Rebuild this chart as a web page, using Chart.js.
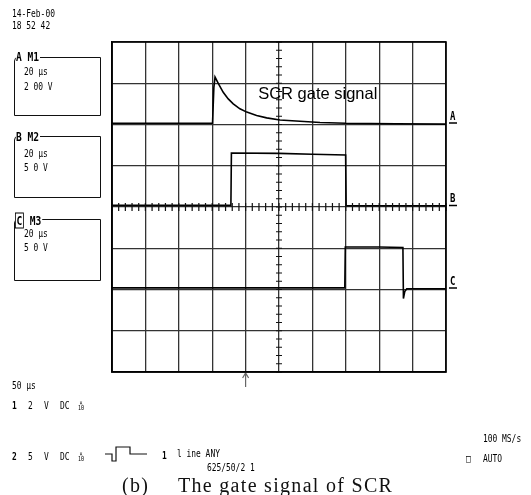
<!DOCTYPE html>
<html>
<head>
<meta charset="utf-8">
<script src="https://cdn.jsdelivr.net/npm/chart.js@4.4.1/dist/chart.umd.min.js"></script>
<style>
  html, body { margin: 0; padding: 0; background: #fff; }
  #wrap { position: relative; width: 531px; height: 495px; overflow: hidden; background: #fff; }
  #c { position: absolute; left: 0; top: 0; }
  .t { position: absolute; white-space: nowrap; font-family: "DejaVu Sans Mono", monospace; font-size: 11px; line-height: 13px; color: #000;
       transform: translateY(-50%) scaleX(0.72); transform-origin: left center; }
  .b { font-weight: bold; }
  .box { position: absolute; border: 1.5px solid #111; border-radius: 4px 0 0 0; }
  .lab { position: absolute; background: #fff; font-family: "DejaVu Sans Mono", monospace; font-weight: bold; font-size: 12px; line-height: 13px;
         transform: translateY(-50%) scaleX(0.8); transform-origin: left center; padding-right: 1px; color: #000; }
  .inv { border: 1.2px solid #000; padding: 0 1px; }
  .cap { position: absolute; font-family: "Liberation Serif", "Times New Roman", serif; font-size: 20px; line-height: 22px; letter-spacing: 1.3px; color: #111; transform: translateY(-50%); white-space: nowrap; }
  .stk { display: inline-block; font-size: 7px; line-height: 5px; vertical-align: middle; text-align: center; }
</style>
</head>
<body>
<div id="wrap">
  <canvas id="c" width="531" height="495"></canvas>
</div>
<script>
// ---- Data (time in µs, level in screen divisions) ----
const timeMin = 0, timeMax = 200, timeStep = 20;     // 20 µs/div, 10 div
const divMin = -4, divMax = 4;                       // 8 vertical divisions

// Channel A (M1, 2.00 V/div): SCR gate signal
const aTime  = [0, 60.2, 61.0, 61.7, 63.7, 66.6, 69.6, 72.6, 76.6, 80.7, 86.6, 92.6, 100.6, 112.6, 124.6, 140, 170, 200];
const aLevel = [2.03, 2.03, 2.9, 3.15, 2.99, 2.78, 2.62, 2.50, 2.38, 2.30, 2.22, 2.16, 2.11, 2.08, 2.05, 2.03, 2.02, 2.01];

// Channel B (M2, 5.0 V/div)
const bTime  = [0, 71.2, 71.5, 100, 120, 139.9, 140.2, 200];
const bLevel = [0.04, 0.04, 1.31, 1.30, 1.28, 1.26, 0.03, 0.03];

// Channel C (M3, 5.0 V/div)
const cTime  = [0, 139.4, 139.7, 160, 174.2, 174.5, 175.3, 176.5, 200];
const cLevel = [-1.96, -1.96, -0.97, -0.97, -0.98, -2.22, -2.05, -1.98, -1.98];

// Channel reference markers (division level of each ground marker)
const chanNames  = ["A", "B", "C"];
const chanLevels = [2.0, 0.0, -2.0];
const triggerTime = 80;

const pts = (xs, ys) => xs.map((x, i) => ({ x: x, y: ys[i] }));

// Plugin: centre graticule ticks, trigger arrow, channel labels, annotation
const scopeDecor = {
  id: 'scopeDecor',
  afterDatasetsDraw(chart) {
    const ctx = chart.ctx, xs = chart.scales.x, ys = chart.scales.y;
    const cx = xs.getPixelForValue((timeMin + timeMax) / 2);
    const cy = ys.getPixelForValue(0);
    ctx.save();
    ctx.strokeStyle = '#111';
    ctx.lineWidth = 1.2;
    ctx.beginPath();
    for (let t = timeMin; t <= timeMax; t += timeStep / 5) {
      const px = xs.getPixelForValue(t);
      ctx.moveTo(px, cy - 4); ctx.lineTo(px, cy + 4);
    }
    for (let d = divMin; d <= divMax + 1e-9; d += 0.2) {
      const py = ys.getPixelForValue(d);
      ctx.moveTo(cx - 3, py); ctx.lineTo(cx + 3, py);
    }
    ctx.stroke();

    // trigger arrow
    const tx = xs.getPixelForValue(triggerTime);
    const by = ys.getPixelForValue(divMin);
    ctx.strokeStyle = '#666';
    ctx.lineWidth = 1.2;
    ctx.beginPath();
    ctx.moveTo(tx, by + 1); ctx.lineTo(tx, by + 15);
    ctx.moveTo(tx - 3, by + 6); ctx.lineTo(tx, by + 1); ctx.lineTo(tx + 3, by + 6);
    ctx.stroke();

    // channel labels at right edge
    const rx = chart.chartArea.right;
    ctx.fillStyle = '#000';
    ctx.strokeStyle = '#000';
    ctx.font = 'bold 12px "DejaVu Sans Mono"';
    ctx.textBaseline = 'bottom';
    chanNames.forEach((n, i) => {
      const py = ys.getPixelForValue(chanLevels[i]);
      ctx.save();
      ctx.translate(rx + 4, py - 2);
      ctx.scale(0.75, 1);
      ctx.fillText(n, 0, 0);
      ctx.restore();
      ctx.lineWidth = 1.5;
      ctx.beginPath();
      ctx.moveTo(rx + 3, py - 1.5); ctx.lineTo(rx + 11, py - 1.5);
      ctx.stroke();
    });

    // annotation
    ctx.font = '16.5px "Liberation Sans", Arial, sans-serif';
    ctx.textBaseline = 'middle';
    ctx.fillStyle = '#000';
    ctx.fillText('SCR gate signal', xs.getPixelForValue(87.5), ys.getPixelForValue(2.73));
    ctx.restore();
  }
};

const lineDs = (data) => ({
  data: data, borderColor: '#000', borderWidth: 1.6, pointRadius: 0, tension: 0, fill: false
});

new Chart(document.getElementById('c'), {
  type: 'line',
  data: {
    datasets: [lineDs(pts(aTime, aLevel)), lineDs(pts(bTime, bLevel)), lineDs(pts(cTime, cLevel))]
  },
  options: {
    responsive: false,
    animation: false,
    devicePixelRatio: 1,
    layout: { padding: { left: 112, top: 42, right: 85, bottom: 123 } },
    plugins: { legend: { display: false }, tooltip: { enabled: false }, title: { display: false } },
    scales: {
      x: {
        type: 'linear', min: timeMin, max: timeMax,
        ticks: { display: false, stepSize: timeStep },
        grid: { color: '#333', lineWidth: 1.3, drawTicks: false },
        border: { display: true, color: '#000', width: 1.6 }
      },
      y: {
        type: 'linear', min: divMin, max: divMax,
        ticks: { display: false, stepSize: 1 },
        grid: { color: '#333', lineWidth: 1.3, drawTicks: false },
        border: { display: true, color: '#000', width: 1.6 }
      }
    }
  },
  plugins: [scopeDecor, {
    id: 'frame',
    afterDraw(chart) {
      const a = chart.chartArea, ctx = chart.ctx;
      ctx.save(); ctx.strokeStyle = '#000'; ctx.lineWidth = 1.6;
      ctx.strokeRect(a.left, a.top, a.right - a.left, a.bottom - a.top);
      ctx.restore();
    }
  }]
});

// ---- Text overlays ----
const wrap = document.getElementById('wrap');
function add(html, x, y, cls) {
  const d = document.createElement('div');
  d.className = cls || 't';
  d.innerHTML = html;
  d.style.left = x + 'px';
  d.style.top = y + 'px';
  wrap.appendChild(d);
  return d;
}
function box(x, y, w, h) {
  const d = document.createElement('div');
  d.className = 'box';
  d.style.left = x + 'px'; d.style.top = y + 'px';
  d.style.width = w + 'px'; d.style.height = h + 'px';
  wrap.appendChild(d);
}
add('14-Feb-00', 12, 13);
add('18 52 42', 12, 25);

box(14, 57, 85, 57);
add('A M1', 16, 57, 'lab');
add('20 µs', 24, 71);
add('2 00 V', 24, 86);

box(14, 136, 85, 60);
add('B M2', 16, 137, 'lab');
add('20 µs', 24, 153);
add('5 0 V', 24, 167);

box(14, 219, 85, 60);
add('<span class="inv">C</span> M3', 15, 221, 'lab');
add('20 µs', 24, 233);
add('5 0 V', 24, 247);

add('50 µs', 12, 385);
const x10 = '<span class="stk">×<br>10</span>';
add('<b>1</b>', 12, 405); add('2', 28, 405); add('V', 44, 405); add('DC', 60, 405); add(x10, 78, 405);
add('<b>2</b>', 12, 456); add('5', 28, 456); add('V', 44, 456); add('DC', 60, 456); add(x10, 78, 456);
const ic = document.createElement('div');
ic.style.cssText = 'position:absolute;left:103px;top:444px;width:50px;height:20px;';
ic.innerHTML = '<svg width="50" height="20"><polyline points="2,10 9,10 9,17 13,17 13,3 27,3 27,10 44,10" fill="none" stroke="#111" stroke-width="1.2"/></svg>';
wrap.appendChild(ic);
add('<b>1</b>', 162, 455);
add('l ine ANY', 177, 453);
add('625/50/2 1', 207, 467);
add('100 MS/s', 483, 438);
add('□', 466, 458);
add('AUTO', 483, 458);

add('(b)', 122, 485, 'cap');
add('The gate signal of SCR', 178, 485, 'cap');
</script>
</body>
</html>
